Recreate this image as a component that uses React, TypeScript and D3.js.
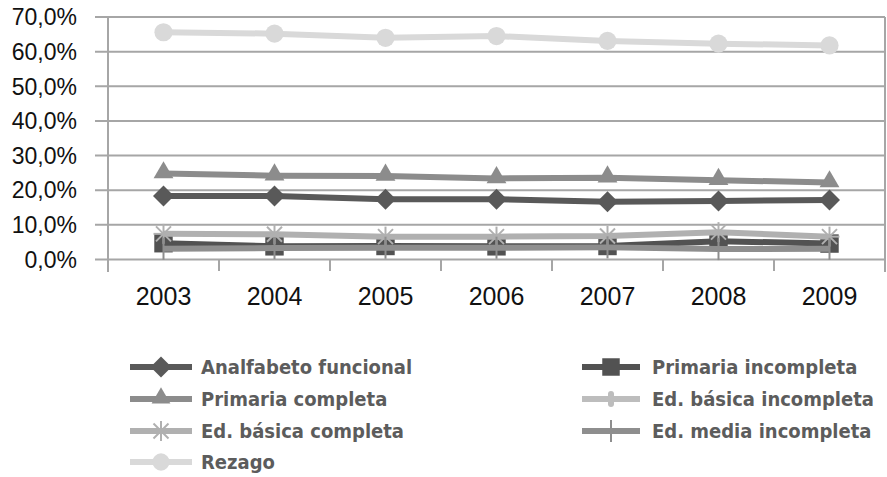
import { scaleBand, scaleLinear, line, symbol, symbolTriangle, symbolSquare, symbolCircle } from 'd3';

const years = ['2003', '2004', '2005', '2006', '2007', '2008', '2009'];
const yTicks = [0, 10, 20, 30, 40, 50, 60, 70];

const analfabeto = [18.3, 18.3, 17.4, 17.4, 16.7, 16.9, 17.2];
const primariaIncompleta = [4.7, 3.8, 3.9, 3.8, 3.9, 5.3, 4.6];
const primariaCompleta = [24.8, 24.2, 24.1, 23.4, 23.6, 22.9, 22.2];
const edBasicaIncompleta: number[] = [];
const edBasicaCompleta = [7.4, 7.3, 6.6, 6.6, 6.8, 7.9, 6.6];
const edMediaIncompleta = [3.1, 3.3, 3.4, 3.4, 3.5, 3.0, 3.1];
const rezago = [65.6, 65.2, 64.0, 64.5, 63.1, 62.3, 61.8];

const series = [
  { name: 'Analfabeto funcional', values: analfabeto, color: '#595959', marker: 'diamond' },
  { name: 'Primaria incompleta', values: primariaIncompleta, color: '#525252', marker: 'square' },
  { name: 'Primaria completa', values: primariaCompleta, color: '#8c8c8c', marker: 'triangle' },
  { name: 'Ed. básica incompleta', values: edBasicaIncompleta, color: '#bdbdbd', marker: 'dash' },
  { name: 'Ed. básica completa', values: edBasicaCompleta, color: '#b0b0b0', marker: 'star' },
  { name: 'Ed. media incompleta', values: edMediaIncompleta, color: '#8e8e8e', marker: 'plus' },
  { name: 'Rezago', values: rezago, color: '#d9d9d9', marker: 'circle' },
];

// [series index, legend column]
const legendOrder = [
  [0, 0], [1, 1], [2, 0], [3, 1], [4, 0], [5, 1], [6, 0],
];

const Marker = ({ type, color, x, y, big }: { type: string; color: string; x: number; y: number; big?: boolean }) => {
  const k = big ? 1 : 0.9;
  if (type === 'diamond') {
    const h = 10.5;
    return <path d={`M${x},${y - h}L${x + h},${y}L${x},${y + h}L${x - h},${y}Z`} fill={color} />;
  }
  if (type === 'square')
    return <path transform={`translate(${x},${y})`} d={symbol(symbolSquare, 340 * k)()!} fill={color} />;
  if (type === 'triangle')
    return <path transform={`translate(${x},${y - 1})`} d={symbol(symbolTriangle, 170 * k)()!} fill={color} />;
  if (type === 'circle')
    return <path transform={`translate(${x},${y})`} d={symbol(symbolCircle, 260 * k)()!} fill={color} />;
  if (type === 'dash')
    return <rect x={x - 3} y={y - 8} width={6} height={16} rx={3} fill={color} />;
  if (type === 'plus')
    return <line x1={x} x2={x} y1={y - 11} y2={y + 11} stroke={color} strokeWidth={2} />;
  // asterisk
  const r = 10;
  return (
    <g transform={`translate(${x},${y})`} stroke={color} strokeWidth={2}>
      <line x1={-r} x2={r} y1={0} y2={0} />
      <line x1={0} x2={0} y1={-r} y2={r} />
      <line x1={-r * 0.75} x2={r * 0.75} y1={-r * 0.75} y2={r * 0.75} />
      <line x1={-r * 0.75} x2={r * 0.75} y1={r * 0.75} y2={-r * 0.75} />
    </g>
  );
};

export default function App() {
  const left = 108;
  const right = 885;
  const top = 17;
  const bottom = 259.5;

  const x = scaleBand().domain(years).range([left, right]);
  const y = scaleLinear().domain([0, 70]).range([bottom, top]);
  const cx = (d: string) => x(d)! + x.bandwidth() / 2;

  const path = line<number>()
    .x((_, i) => cx(years[i]))
    .y((d) => y(d));

  const grid = '#a6a6a6';
  const rows = [367, 399, 431, 462];
  const cols = [{ x1: 130, x2: 192, tx: 201 }, { x1: 582, x2: 640, tx: 652 }];

  return (
    <svg width={887} height={477} style={{ position: 'absolute', left: 0, top: 0 }}>
      <rect width={887} height={477} fill="#fff" />
      {yTicks.map((t) => (
        <g key={t}>
          <line x1={95} x2={right} y1={y(t)} y2={y(t)} stroke={grid} strokeWidth={2} />
          <text
            x={77}
            y={y(t)}
            dy="0.36em"
            textAnchor="end"
            fontFamily="Liberation Sans, Arial, sans-serif"
            fontSize={23}
            fill="#111"
          >
            {t.toFixed(1).replace('.', ',')}%
          </text>
        </g>
      ))}
      <line x1={left} x2={left} y1={top} y2={272} stroke={grid} strokeWidth={2} />
      <line x1={right} x2={right} y1={top} y2={272} stroke={grid} strokeWidth={2} />
      {years.slice(1).map((yr) => (
        <line key={yr} x1={x(yr)!} x2={x(yr)!} y1={bottom} y2={271} stroke={grid} strokeWidth={2} />
      ))}
      {years.map((yr) => (
        <text
          key={yr}
          x={cx(yr)}
          y={305}
          textAnchor="middle"
          fontFamily="Liberation Sans, Arial, sans-serif"
          fontSize={25}
          fill="#111"
        >
          {yr}
        </text>
      ))}
      {series.map((s) =>
        s.values.length ? (
          <g key={s.name}>
            <path d={path(s.values)!} fill="none" stroke={s.color} strokeWidth={6} />
            {s.values.map((v, i) => (
              <Marker key={i} type={s.marker} color={s.color} x={cx(years[i])} y={y(v)} big />
            ))}
          </g>
        ) : null
      )}
      {legendOrder.map(([si, col], i) => {
        const s = series[si];
        const c = cols[col];
        const ry = rows[Math.floor(i / 2)];
        return (
          <g key={s.name}>
            <line x1={c.x1} x2={c.x2} y1={ry} y2={ry} stroke={s.color} strokeWidth={6} />
            <Marker type={s.marker} color={s.color} x={(c.x1 + c.x2) / 2} y={ry} />
            <text
              x={c.tx}
              y={ry}
              dy="0.36em"
              fontFamily="DejaVu Sans Condensed, DejaVu Sans, sans-serif"
              fontStretch="condensed"
              fontWeight="bold"
              fontSize={20}
              fill="#5c5c5c"
            >
              {s.name}
            </text>
          </g>
        );
      })}
    </svg>
  );
}
